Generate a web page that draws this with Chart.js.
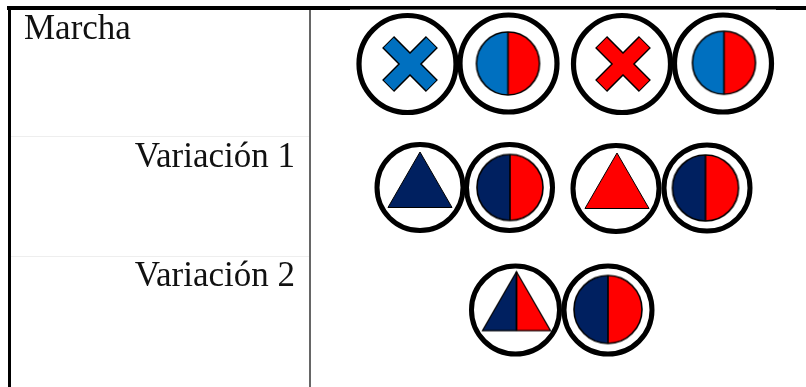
<!DOCTYPE html>
<html><head><meta charset="utf-8">
<style>html,body{margin:0;padding:0;background:#fff}canvas{display:block}</style>
<script src="https://cdn.jsdelivr.net/npm/chart.js@4"></script>
</head><body><canvas id="c" width="806" height="387"></canvas>
<script>
// Row labels
const rowLabels = ['Marcha', 'Variación 1', 'Variación 2'];
const labelX = [24, 295, 295];
const labelY = [39, 167, 286];
const labelAlign = ['left', 'right', 'right'];
// Rings
const ringX = [407.5, 508.5, 622, 723, 420, 509.5, 616, 707, 515.5, 608];
const ringY = [64, 63.5, 64, 63.5, 187.5, 187.5, 188.5, 188, 310, 310];
const ringRow = [0, 0, 0, 0, 1, 1, 1, 1, 2, 2];
// Crosses
const crossX = [410, 623];
const crossY = [64, 64];
const crossColor = ['#0070c0', '#ff0000'];
// Plain triangles
const triX = [420, 617];
const triY = [189, 190];
const triColor = ['#002060', '#ff0000'];
// Split triangle
const splitTriX = [516.5];
const splitTriY = [311];
// Split discs
const discX = [508, 724, 510, 705.5, 608];
const discY = [63.5, 62.7, 187.5, 188, 309.5];
const discLeft = ['#0070c0', '#0070c0', '#002060', '#002060', '#002060'];
const discRow = [0, 0, 1, 1, 2];
const RED = '#ff0000', NAVY = '#002060';
// Table rules
const topRuleX = [7, 806], topRuleY = [7.5, 7.5];
const underRuleX = [350, 776], underRuleY = [9.5, 9.5];
const underBlackLeftX = [7, 350], underBlackRightX = [776, 806];
const leftRuleX = [9.5, 9.5], leftRuleY = [6, 387];
const midRuleX = [310, 310], midRuleY = [9, 387];
const sepX = [11, 309], sep1Y = [136.5, 136.5], sep2Y = [256.5, 256.5];

const ringRadius = [48.5, 43, 44], ringWidth = [5.2, 5, 5];
const discRadius = [31.5, 33, 34];

function pts(xs, ys) { return xs.map((x, i) => ({ x, y: ys[i] })); }
function makeCanvas(s) { const c = document.createElement('canvas'); c.width = c.height = s; return c; }
function splitDisc(r, left, right) {
  const s = Math.ceil(r * 2 + 4), c = makeCanvas(s), g = c.getContext('2d'), m = s / 2;
  g.fillStyle = left; g.beginPath(); g.arc(m, m, r, Math.PI / 2, Math.PI * 1.5); g.fill();
  g.fillStyle = right; g.beginPath(); g.arc(m, m, r, -Math.PI / 2, Math.PI / 2); g.fill();
  g.strokeStyle = '#000'; g.lineWidth = 1.6;
  g.beginPath(); g.arc(m, m, r, 0, Math.PI * 2); g.stroke();
  g.beginPath(); g.moveTo(m, m - r); g.lineTo(m, m + r); g.stroke();
  return c;
}
function splitTriangle(r, left, right) {
  const s = Math.ceil(r * 2 + 6), c = makeCanvas(s), g = c.getContext('2d'), m = s / 2;
  const hw = r * Math.sqrt(3) / 2, top = m - r, base = m + r / 2;
  g.fillStyle = left; g.beginPath(); g.moveTo(m, top); g.lineTo(m, base); g.lineTo(m - hw, base); g.closePath(); g.fill();
  g.fillStyle = right; g.beginPath(); g.moveTo(m, top); g.lineTo(m, base); g.lineTo(m + hw, base); g.closePath(); g.fill();
  g.strokeStyle = '#000'; g.lineWidth = 1.2;
  g.beginPath(); g.moveTo(m, top); g.lineTo(m + hw, base); g.lineTo(m - hw, base); g.closePath(); g.stroke();
  g.lineWidth = 1.8; g.beginPath(); g.moveTo(m, top); g.lineTo(m, base); g.stroke();
  return c;
}
function rule(xs, ys, color, width) {
  return { type: 'line', data: pts(xs, ys), showLine: true, borderColor: color, borderWidth: width, pointRadius: 0, fill: false, tension: 0, borderCapStyle: 'butt' };
}

const labelsPlugin = {
  id: 'rowLabels',
  afterDatasetsDraw(chart) {
    const g = chart.ctx, sx = chart.scales.x, sy = chart.scales.y;
    g.save();
    g.font = '35px "Liberation Serif"';
    g.fillStyle = '#111';
    g.textBaseline = 'alphabetic';
    rowLabels.forEach((t, i) => {
      g.textAlign = labelAlign[i];
      g.fillText(t, sx.getPixelForValue(labelX[i]), sy.getPixelForValue(labelY[i]));
    });
    g.restore();
  }
};

new Chart(document.getElementById('c'), {
  type: 'scatter',
  data: { datasets: [
    { data: pts(discX, discY), pointStyle: discX.map((_, i) => splitDisc(discRadius[discRow[i]], discLeft[i], RED)), pointRadius: 34 },
    { data: pts(splitTriX, splitTriY), pointStyle: [splitTriangle(39.3, NAVY, RED)], pointRadius: 40 },
    { data: pts(triX, triY), pointStyle: 'triangle', pointRadius: 37, pointBackgroundColor: triColor, pointBorderColor: '#000', pointBorderWidth: 1 },
    { data: pts(crossX, crossY), pointStyle: 'crossRot', pointRadius: 30, pointBorderColor: crossColor, pointBorderWidth: 14 },
    { data: pts(crossX, crossY), pointStyle: 'crossRot', pointRadius: 31, pointBorderColor: '#000', pointBorderWidth: 17 },
    { data: pts(ringX, ringY), pointStyle: 'circle', pointRadius: ringRow.map(r => ringRadius[r]), pointBorderWidth: ringRow.map(r => ringWidth[r]), pointBackgroundColor: '#fff', pointBorderColor: '#000' },
    rule(topRuleX, topRuleY, '#000', 3),
    rule(underRuleX, underRuleY, '#777', 1),
    rule(underBlackLeftX, underRuleY, '#000', 1),
    rule(underBlackRightX, underRuleY, '#000', 1),
    rule(leftRuleX, leftRuleY, '#000', 3),
    rule(midRuleX, midRuleY, '#666', 2),
    rule(sepX, sep1Y, '#eeeeee', 1),
    rule(sepX, sep2Y, '#eeeeee', 1)
  ] },
  options: {
    responsive: false, animation: false, events: [],
    layout: { padding: 0, autoPadding: false },
    plugins: { legend: { display: false }, tooltip: { enabled: false }, title: { display: false } },
    elements: { line: { borderJoinStyle: 'miter' } },
    datasets: { scatter: { clip: false } },
    scales: {
      x: { type: 'linear', min: 0, max: 806, display: false },
      y: { type: 'linear', min: 0, max: 387, reverse: true, display: false }
    }
  },
  plugins: [labelsPlugin]
});
</script></body></html>
